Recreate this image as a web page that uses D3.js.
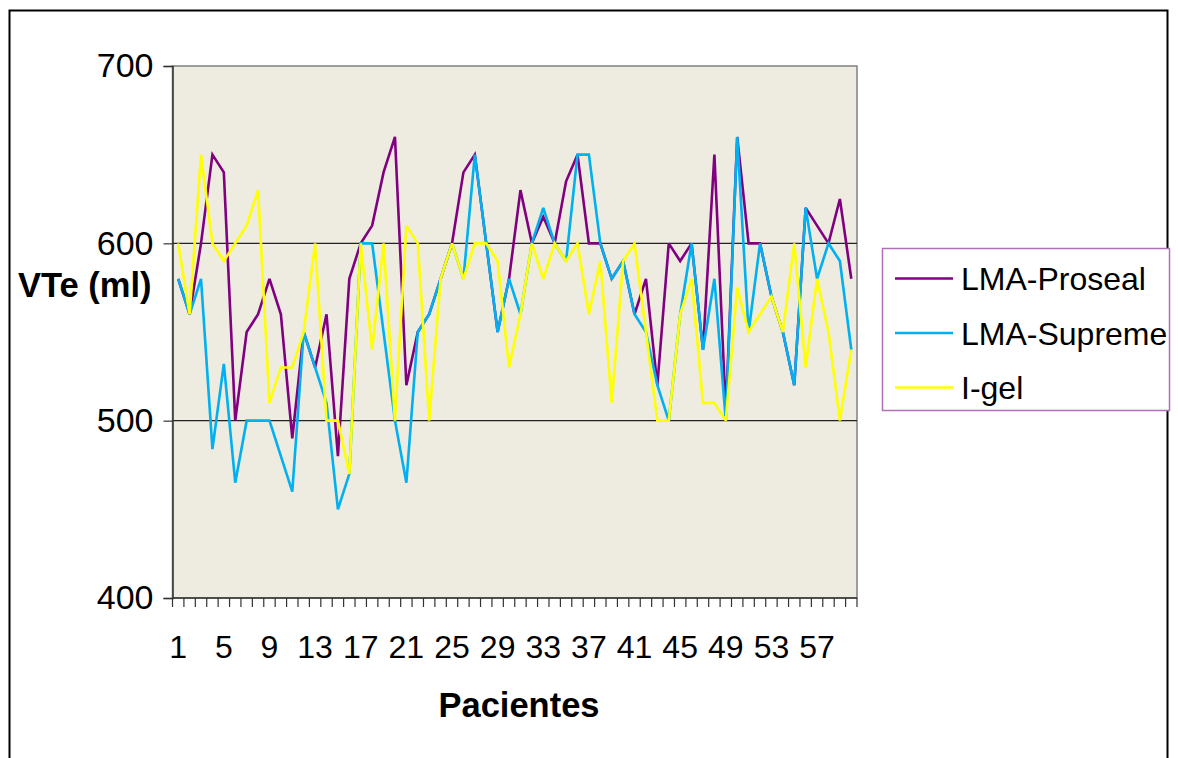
<!DOCTYPE html>
<html><head><meta charset="utf-8">
<script src="https://cdn.jsdelivr.net/npm/d3@7"></script>
<style>body{margin:0;background:#fff}svg{display:block}text{font-family:"Liberation Sans",Arial,sans-serif}</style>
</head><body>
<svg id="c" width="1178" height="758"></svg>
<script>
const categories = d3.range(1, 61);
const proseal = [580,560,600,650,640,500,550,560,580,560,490,550,530,560,480,580,600,610,640,660,
                 520,550,560,580,600,640,650,600,550,580,630,600,615,600,635,650,600,600,580,590,
                 560,580,520,600,590,600,540,650,505,660,600,600,570,550,520,620,610,600,625,580];
const supreme = [580,560,580,484,532,465,500,500,500,480,460,550,530,510,450,470,600,600,550,500,
                 465,550,560,580,600,580,650,600,550,580,560,600,620,600,590,650,650,600,580,590,
                 560,550,520,500,560,600,540,580,500,660,550,600,570,550,520,620,580,600,590,540];
const igel    = [600,560,650,600,590,600,610,630,510,530,530,550,600,500,500,470,600,540,600,500,
                 610,600,500,580,600,580,600,600,590,530,560,600,580,600,590,600,560,590,510,590,
                 600,550,500,500,560,580,510,510,500,575,550,560,570,550,600,530,580,550,500,540];
const seriesNames = ["LMA-Proseal","LMA-Supreme","I-gel"];
const seriesColors = ["#800080","#00B0F0","#FFFF00"];
const yTicks = [400,500,600,700];
const xTickLabels = categories.filter(d => (d - 1) % 4 === 0);

const svg = d3.select("#c");
const L = 172.5, R = 857, T = 66, B = 598;
const x = d3.scaleBand().domain(categories).range([L, R]).paddingInner(0).paddingOuter(0);
const y = d3.scaleLinear().domain([400,700]).range([B, T]);
const cx = d => x(d) + x.bandwidth()/2;

// outer border
svg.append("rect").attr("x",9.5).attr("y",10.5).attr("width",1158).attr("height",800)
  .attr("fill","none").attr("stroke","#000").attr("stroke-width",2);

// plot area
svg.append("rect").attr("x",L).attr("y",T).attr("width",R-L).attr("height",B-T)
  .attr("fill","#EEEBE1").attr("stroke","#808080").attr("stroke-width",1.5);

// gridlines
svg.append("g").selectAll("line").data(yTicks.filter(v => v>400 && v<700)).join("line")
  .attr("x1",L).attr("x2",R).attr("y1",d=>y(d)).attr("y2",d=>y(d))
  .attr("stroke","#222").attr("stroke-width",1.2);

// y axis
const yAxis = d3.axisLeft(y).tickValues(yTicks).tickSize(9).tickPadding(10).tickFormat(d3.format("d"));
const gy = svg.append("g").attr("transform",`translate(${L},0)`).call(yAxis);
gy.select(".domain").attr("stroke","#333").attr("stroke-width",1.5);
gy.selectAll(".tick line").attr("stroke","#333").attr("stroke-width",1.2);
gy.selectAll(".tick text").attr("font-size",34).attr("fill","#000")
  .attr("font-family","'Liberation Sans',Arial,sans-serif");

// x axis line
svg.append("line").attr("x1",L).attr("x2",R).attr("y1",B).attr("y2",B)
  .attr("stroke","#333").attr("stroke-width",1.5);
// x tick marks at category boundaries
const bounds = categories.map(d => x(d)).concat([x(categories[categories.length-1]) + x.step()]);
svg.append("g").selectAll("line").data(bounds).join("line")
  .attr("x1",d=>d).attr("x2",d=>d).attr("y1",B).attr("y2",B+9)
  .attr("stroke","#333").attr("stroke-width",1.2);
// x tick labels
svg.append("g").selectAll("text").data(xTickLabels).join("text")
  .attr("x",d=>cx(d)).attr("y",658).attr("text-anchor","middle")
  .attr("font-size",32).attr("fill","#000").text(d=>d);

// axis titles
svg.append("text").attr("x",18).attr("y",297).attr("font-size",34.5).attr("font-weight","bold")
  .attr("fill","#000").text("VTe (ml)");
svg.append("text").attr("x",519).attr("y",717).attr("text-anchor","middle").attr("font-size",34.5)
  .attr("font-weight","bold").attr("fill","#000").text("Pacientes");

// lines
const data = [proseal, supreme, igel];
const line = d3.line().x((v,i)=>cx(categories[i])).y(v=>y(v));
svg.append("g").selectAll("path").data(data).join("path")
  .attr("d", d => line(d)).attr("fill","none")
  .attr("stroke",(d,i)=>seriesColors[i]).attr("stroke-width",2.6)
  .attr("stroke-linejoin","miter").attr("stroke-miterlimit",3);

// legend
const lg = svg.append("g");
lg.append("rect").attr("x",882.5).attr("y",248.5).attr("width",287).attr("height",162)
  .attr("fill","#fff").attr("stroke","#B070B8").attr("stroke-width",1.5);
const ly = [278.5, 333, 387.5];
seriesNames.forEach((n,i)=>{
  lg.append("line").attr("x1",895).attr("x2",953).attr("y1",ly[i]).attr("y2",ly[i])
    .attr("stroke",seriesColors[i]).attr("stroke-width",2.6);
  lg.append("text").attr("x",961).attr("y",ly[i]+11.5).attr("font-size",32).attr("fill","#000").text(n);
});
</script>
</body></html>
